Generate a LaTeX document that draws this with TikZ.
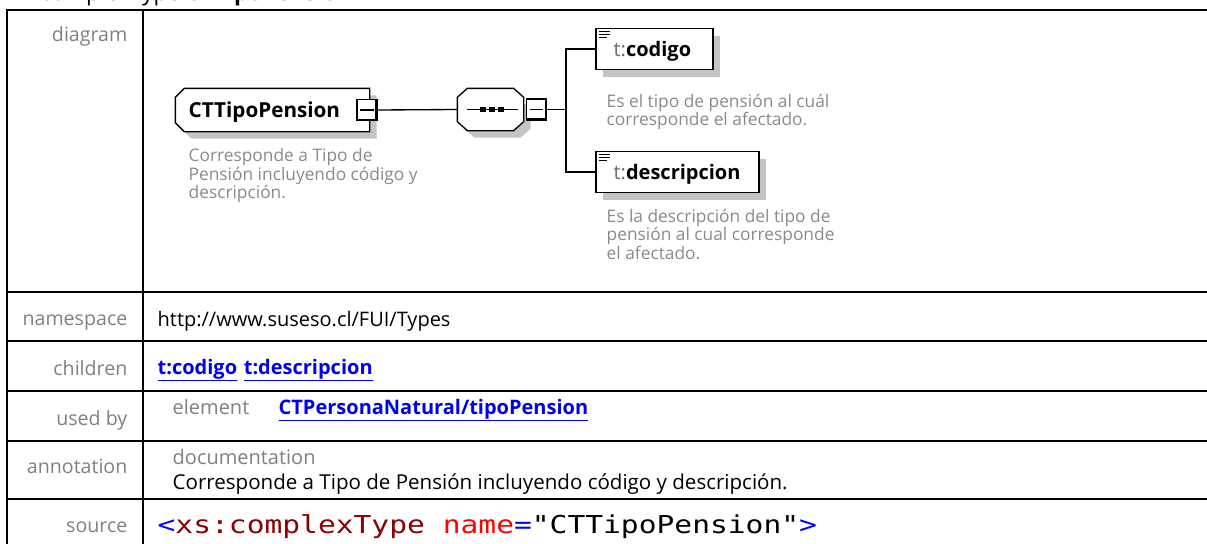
\documentclass[tikz,border=0pt]{standalone}
\usepackage{fontspec}
\setmainfont{Open Sans}
\newfontfamily\srcfont[FakeStretch=1.2]{DejaVu Sans Mono}
\usetikzlibrary{positioning, calc, shadows}
\definecolor{xgrey}{HTML}{808080}
\definecolor{xdesc}{HTML}{8A8A8A}
\definecolor{xprefix}{HTML}{6A6A6A}
\definecolor{xshadow}{HTML}{C4C4C4}
\definecolor{xlink}{HTML}{0000EE}
\definecolor{xtag}{HTML}{0000FF}
\definecolor{xname}{HTML}{8B0000}
\definecolor{xattr}{HTML}{FF0000}
\tikzset{
  every picture/.style={line width=1pt},
  grid/.style={draw=black, line width=1.6pt},
  rowlabel/.style={anchor=base east, inner sep=0pt, text=xgrey, font=\fontsize{14.7}{17}\selectfont},
  cell/.style={anchor=base west, inner sep=0pt, font=\fontsize{15}{17}\selectfont},
  link/.style={cell, text=xlink, font=\fontsize{15}{17}\selectfont\bfseries},
  title/.style={anchor=base west, inner sep=0pt, font=\fontsize{17}{20}\selectfont},
  desc/.style={anchor=north west, inner sep=0pt, align=left, text=xdesc, font=\fontsize{13}{13.9}\selectfont},
  shade/.style={drop shadow={shadow xshift=5.25pt, shadow yshift=-5.25pt, fill=xshadow, opacity=1}},
  frame/.style={rectangle, draw=none, inner sep=0pt},
  elembox/.style={rectangle, draw=black, line width=1.3pt, fill=white, shade,
    minimum height=41*0.75pt, inner sep=0pt},
  minusbox/.style={rectangle, draw=black, fill=white, minimum width=20*0.75pt, minimum height=21*0.75pt, inner sep=0pt},
  boxname/.style={anchor=base west, inner sep=0pt, font=\fontsize{15.5}{18}\selectfont\bfseries},
  elemname/.style={anchor=base west, inner sep=0pt, font=\fontsize{15}{18}\selectfont\bfseries},
}
\newcommand{\pfx}[1]{{\mdseries\color{xprefix}#1}}

\begin{document}
\begin{tikzpicture}[x=0.75pt, y=-0.75pt]
  \useasboundingbox (0,0) rectangle (1207,543);
  \clip (0,0) rectangle (1207,543);
  % heading, cut by the top edge
  \node[title] (title) at (40,0.5) {complexType \textbf{CTTipoPension}};
  % table frame
  \draw[grid] (1215,10) -- (7,10) -- (7,550);
  \draw[grid] (143,10) -- (143,550);
  \foreach \y in {292,341,391,441,499}
    \draw[grid] (7,\y) -- (1215,\y);
  % row labels
  \foreach \y/\t [count=\i] in {41/diagram, 325/namespace, 375/children, 425/used by, 473/annotation, 532/source}
    \node[rowlabel] (lab\i) at (128,\y) {\t};
  % row contents
  \node[cell] (ns) at (157,326) {http://www.suseso.cl/FUI/Types};
  \node[link] (kid1) at (157,374) {\underline{t:codigo}};
  \node[link, right=4pt of kid1.base east, anchor=base west] (kid2) {\underline{t:descripcion}};
  \node[cell, text=xgrey] (usedkind) at (172,414) {element};
  \node[link] (usedref) at (278,414) {\underline{CTPersonaNatural/tipoPension}};
  \node[cell, text=xgrey] (docname) at (172,464) {documentation};
  \node[cell, font=\fontsize{15.4}{17}\selectfont] (doctext) at (172,489) {Corresponde a Tipo de Pensión incluyendo código y descripción.};
  \node[cell, font=\srcfont\fontsize{18.5}{20}\selectfont] (src) at (157,533)
    {\textcolor{xtag}{<}\textcolor{xname}{xs:complexType} \textcolor{xattr}{name}\textcolor{xtag}{=}"CTTipoPension"\textcolor{xtag}{>}};

  % diagram: complex type
  \node[frame, minimum width=193*0.75pt, minimum height=42*0.75pt] (tipo) at (272.5,110) {};
  \fill[xshadow] ($(tipo.north east)+(7,7)$) -- ($(tipo.south east)+(7,7)$) -- ($(tipo.south west)+(16,7)$)
    -- ($(tipo.south west)+(7,-2)$) -- ($(tipo.north west)+(7,16)$) -- ($(tipo.north west)+(16,7)$) -- cycle;
  \draw[fill=white] ($(tipo.north west)+(9,0)$) -- (tipo.north east) -- (tipo.south east) -- ($(tipo.south west)+(9,0)$)
    -- ($(tipo.south west)+(0,-9)$) -- ($(tipo.north west)+(0,9)$) -- cycle;
  \node[boxname] (tiponame) at (188,117) {CTTipoPension};
  \node[desc] (tipodesc) at (188,148) {Corresponde a Tipo de\\Pensión incluyendo código y\\descripción.};
  % sequence compositor
  \node[frame, minimum width=65*0.75pt, minimum height=41*0.75pt] (seq) at (490.5,109.5) {};
  \fill[xshadow] ($(seq.north east)+(7,16)$) -- ($(seq.south east)+(7,-2)$) -- ($(seq.south east)+(-3,7)$)
    -- ($(seq.south west)+(17,7)$) -- ($(seq.south west)+(7,-2)$) -- ($(seq.north west)+(7,16)$) -- cycle;
  \draw[fill=white] ($(seq.north west)+(10,0)$) -- ($(seq.north east)+(-10,0)$) -- ($(seq.north east)+(0,9)$)
    -- ($(seq.south east)+(0,-9)$) -- ($(seq.south east)+(-10,0)$) -- ($(seq.south west)+(10,0)$)
    -- ($(seq.south west)+(0,-9)$) -- ($(seq.north west)+(0,9)$) -- cycle;
  \draw ($(seq.west)+(10,0)$) -- ($(seq.east)+(-6,0)$);
  \foreach \x in {480,489,498}
    \fill (\x,107) rectangle ++(6,5);
  \node[minusbox] (tipominus) at (367,110) {};
  \node[minusbox] (seqminus) at (536.5,109.5) {};
  \foreach \m in {tipominus, seqminus} {
    \draw ($(\m.west)+(4,0)$) -- ($(\m.east)+(-4,0)$);
    \draw[line width=1.8pt] ($(\m.north east)+(-1,1)$) -- ($(\m.south east)+(-1,-1)$) -- ($(\m.south west)+(1,-1)$);
  }
  \draw (tipominus.east) -- (seq.west);
  % child elements
  \node[elembox, minimum width=117*0.75pt] (codigo) at (654.5,49) {};
  \node[elembox, minimum width=163*0.75pt] (descripcion) at (677.5,172) {};
  \foreach \e in {codigo, descripcion} {
    \draw ($(\e.north west)+(4,4)$) -- ++(11,0);
    \draw ($(\e.north west)+(4,7)$) -- ++(11,0);
    \draw ($(\e.north west)+(4,10)$) -- ++(8,0);
  }
  \node[elemname] (codigoname) at (613,56) {\pfx{t:}codigo};
  \node[elemname] (descripcionname) at (613,179) {\pfx{t:}descripcion};
  \node[desc] (codigodesc) at (606,93.5) {Es el tipo de pensión al cuál\\corresponde el afectado.};
  \node[desc] (descripciondesc) at (606,208.5) {Es la descripción del tipo de\\pensión al cual corresponde\\el afectado.};
  \coordinate (fork) at (566,109.5);
  \draw (seqminus.east) -- (fork);
  \draw (codigo.west) -| (fork) |- (descripcion.west);
\end{tikzpicture}
\end{document}
